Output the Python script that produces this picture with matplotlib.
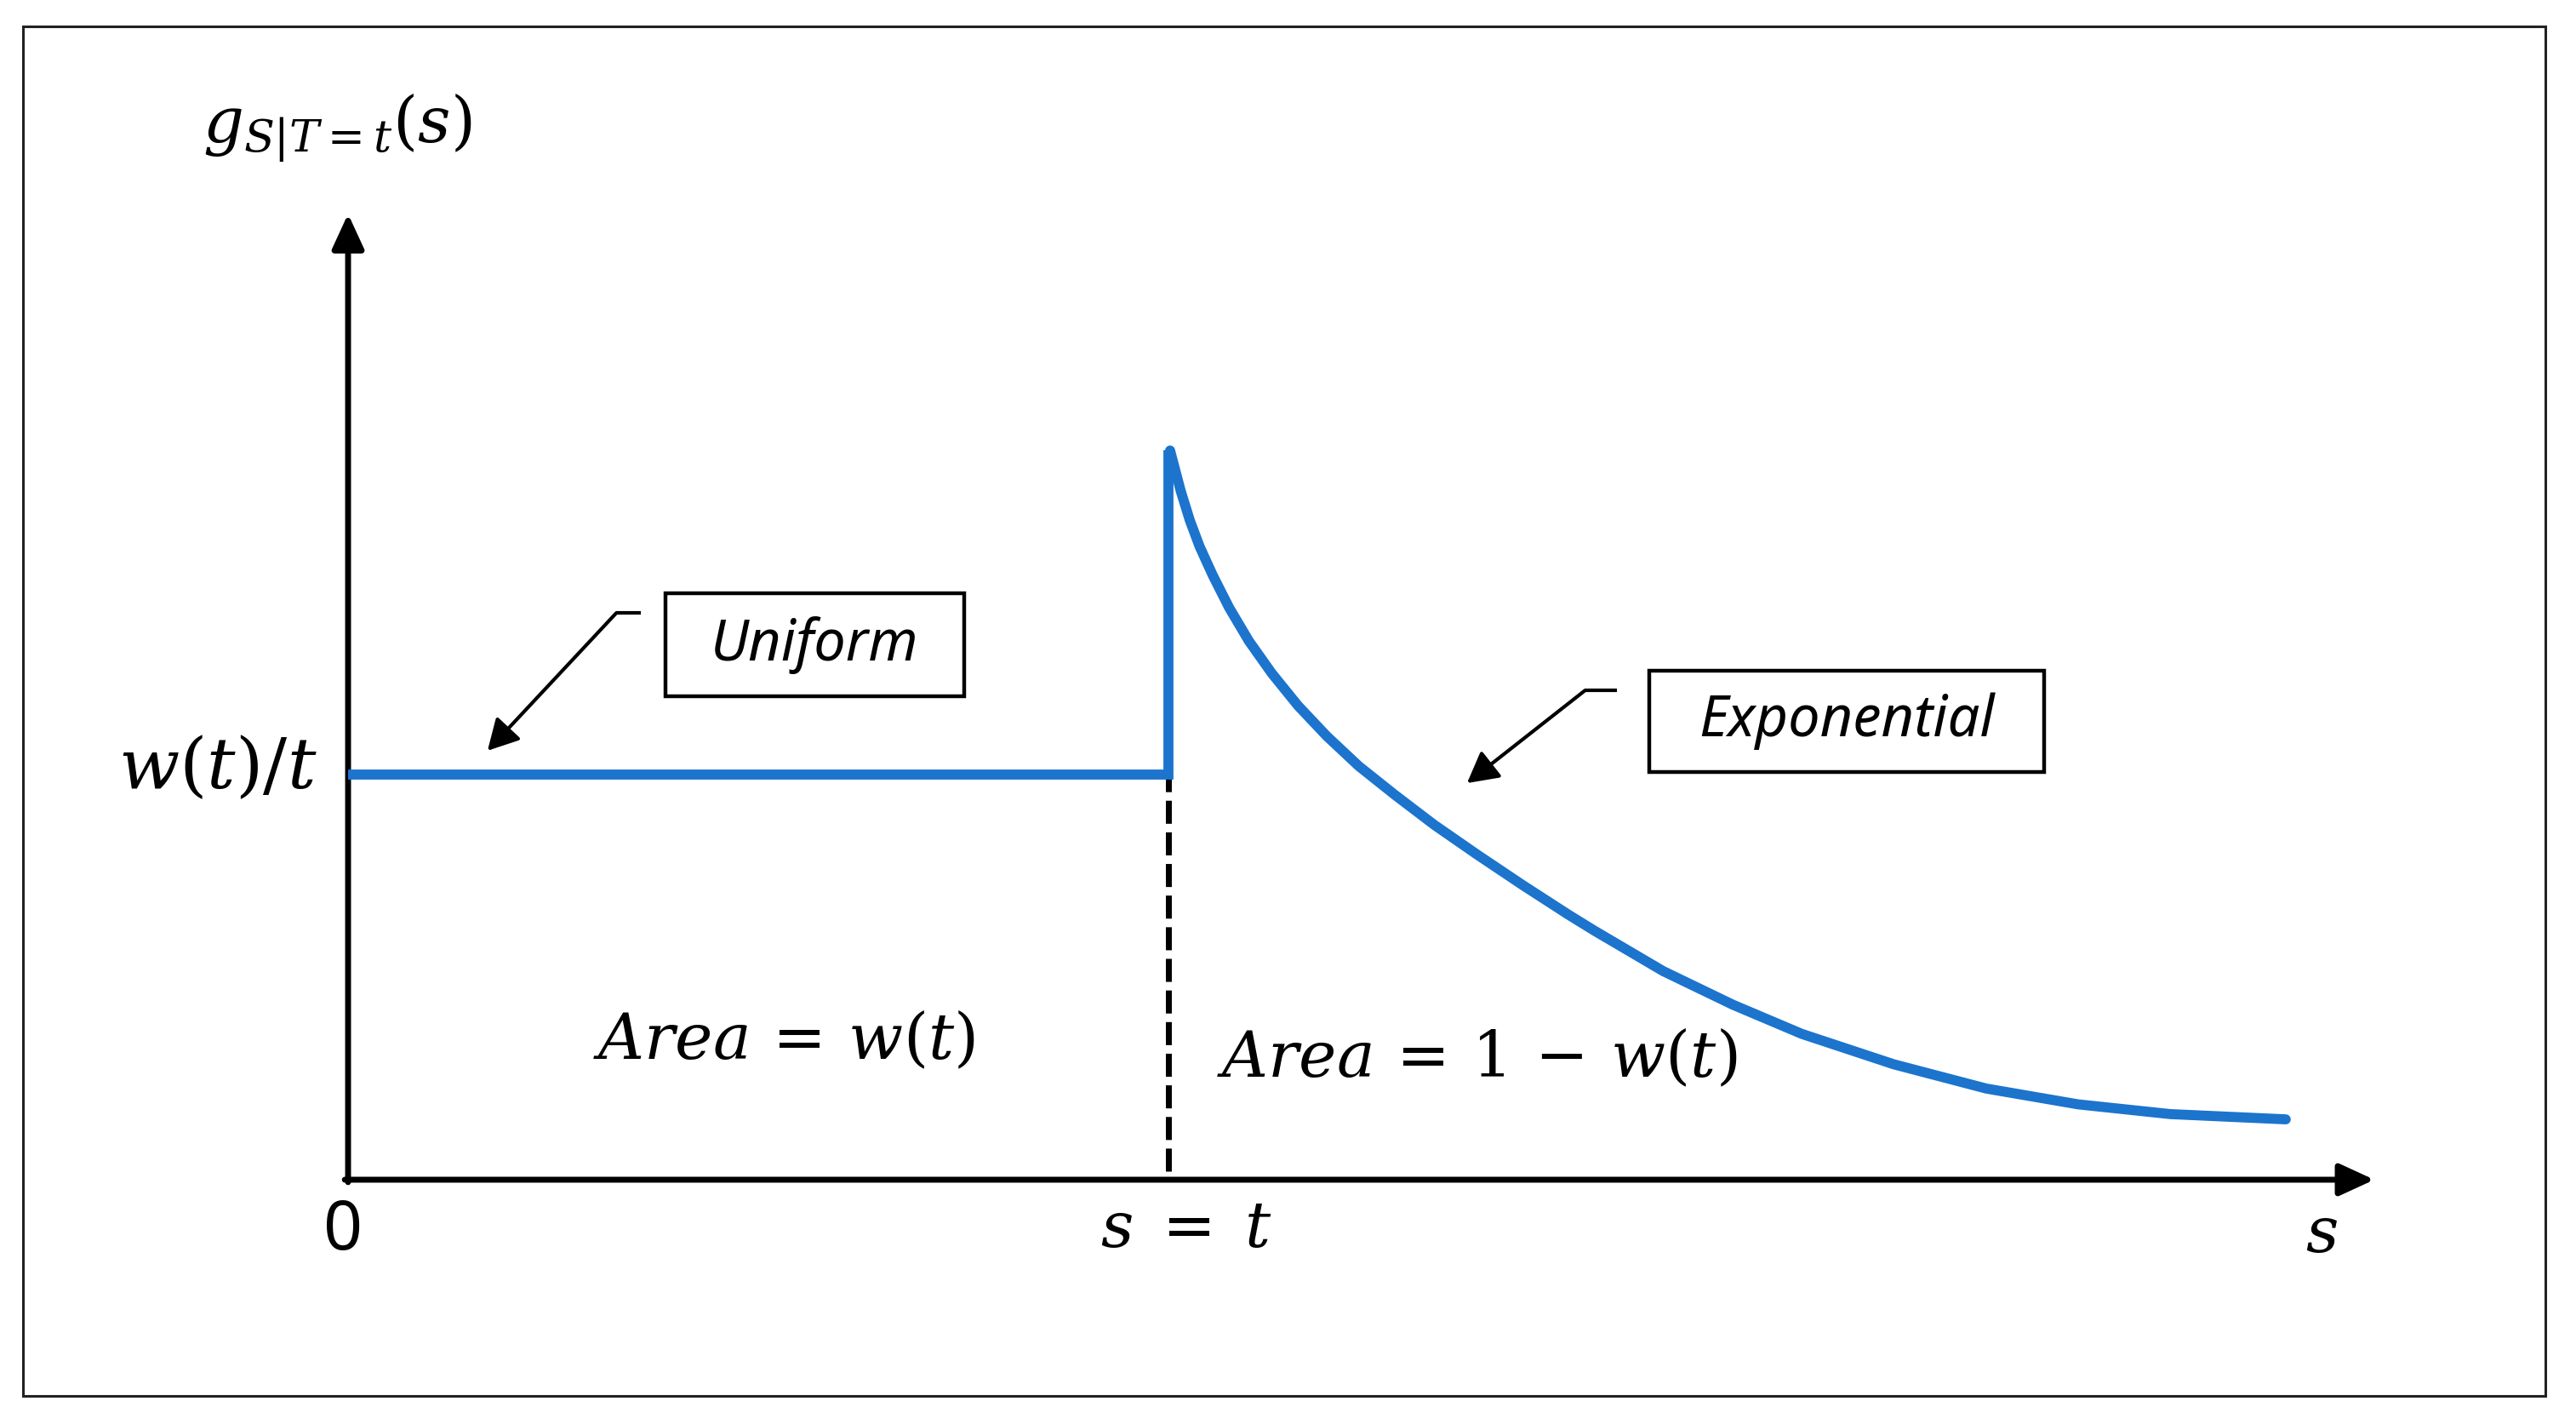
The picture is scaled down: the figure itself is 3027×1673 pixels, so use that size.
import matplotlib
matplotlib.use("Agg")
from matplotlib import pyplot as plt
from matplotlib.patches import Rectangle

# ---------------------------------------------------------------- data
# s in units of t, g in units of w(t)/t
uniform_s = [0.0, 1.0, 1.0]
uniform_g = [1.0, 1.0, 1.800]

exp_s = [1.002, 1.015, 1.026, 1.038, 1.054, 1.074, 1.098, 1.126, 1.158,
         1.193, 1.232, 1.276, 1.324, 1.376, 1.432, 1.487, 1.519, 1.603,
         1.688, 1.772, 1.884, 1.997, 2.109, 2.221, 2.362]
exp_g = [1.800, 1.700, 1.628, 1.563, 1.492, 1.412, 1.330, 1.250, 1.170,
         1.095, 1.021, 0.950, 0.876, 0.803, 0.727, 0.655, 0.615, 0.515,
         0.432, 0.360, 0.285, 0.225, 0.186, 0.162, 0.149]

t_value = 1.0
x_axis_end = 2.47
y_axis_end = 2.384

y_label = r"$g_{S|T=t}(s)$"
level_label = r"$w(t)/t$"
x_labels = ["0", r"$s\;=\;t$", r"$s$"]
area_labels = [r"$Area\,=\,w(t)$", r"$Area\,=\,1\,-\,w(t)$"]
box_labels = ["Uniform", "Exponential"]

BLUE = "#1c74cd"

plt.rcParams["mathtext.fontset"] = "dejavuserif"

fig = plt.figure(figsize=(30.27, 16.73), dpi=100)
ax = fig.add_axes([0, 0, 1, 1])
ax.set_xlim(-0.4243, 2.7158)
ax.set_ylim(-0.603, 2.912)
ax.axis("off")

# outer frame
fig.add_artist(Rectangle((27 / 3027, 1 - 1640 / 1673), (2991 - 27) / 3027,
                         (1640 - 31) / 1673, transform=fig.transFigure,
                         fill=False, lw=2.2, ec="#222222"))

# axes with arrow heads
axis_arrow = dict(arrowstyle="-|>,head_length=25,head_width=11.5",
                  mutation_scale=1, lw=5, color="black",
                  shrinkA=0, shrinkB=0)
ax.annotate("", xy=(x_axis_end, 0), xytext=(-0.004, 0), arrowprops=axis_arrow)
ax.annotate("", xy=(0, y_axis_end), xytext=(0, -0.006), arrowprops=axis_arrow)

# dashed guide at s = t
ax.plot([t_value, t_value], [0.02, uniform_g[1]], color="black", lw=5,
        linestyle=(0, (3.9, 1.45)), zorder=2)

# density: uniform part + jump, then exponential tail
ax.plot(uniform_s, uniform_g, color=BLUE, lw=8.5,
        solid_joinstyle="miter", solid_capstyle="butt", zorder=3)
ax.plot(exp_s, exp_g, color=BLUE, lw=8.5,
        solid_joinstyle="round", solid_capstyle="round", zorder=3)

# math labels
math_size = 54
ax.text(-0.0135, 2.595, y_label, fontsize=math_size, ha="center", va="center")
ax.text(-0.038, 1.015, level_label, fontsize=60, ha="right", va="center")
ax.text(-0.006, -0.128, x_labels[0], fontsize=58, ha="center", va="center",
        family="Noto Sans")
ax.text(1.022, -0.122, x_labels[1], fontsize=math_size, ha="center", va="center")
ax.text(2.406, -0.135, x_labels[2], fontsize=math_size, ha="center", va="center")
ax.text(0.531, 0.340, area_labels[0], fontsize=math_size, ha="center", va="center")
ax.text(1.376, 0.296, area_labels[1], fontsize=math_size, ha="center", va="center")

# callout boxes
boxes = [(0.387, 1.193, 0.751 - 0.387, 1.447 - 1.193),
         (1.586, 1.006, 2.067 - 1.586, 1.256 - 1.006)]
for (bx, by, bw, bh), label in zip(boxes, box_labels):
    ax.add_patch(Rectangle((bx, by), bw, bh, fill=False, lw=3.2, ec="black",
                           zorder=4))
    ax.text(bx + bw / 2, by + bh / 2, label, fontsize=48, style="italic",
            family="Noto Sans", weight="light", ha="center", va="center",
            zorder=5)

# callout arrows (short horizontal tick, then diagonal to the arrow head)
callouts = [([0.357, 0.327], 1.399, (0.170, 1.059)),
            ([1.547, 1.508], 1.208, (1.364, 0.979))]
for (x0, x1), yy, tip in callouts:
    ax.plot([x0, x1], [yy, yy], color="black", lw=3, solid_capstyle="butt")
    ax.annotate("", xy=tip, xytext=(x1, yy),
                arrowprops=dict(arrowstyle="-|>,head_length=22,head_width=12",
                                mutation_scale=1, lw=3, color="black",
                                shrinkA=0, shrinkB=0))

fig.savefig("out.png", dpi=100, facecolor="white")
